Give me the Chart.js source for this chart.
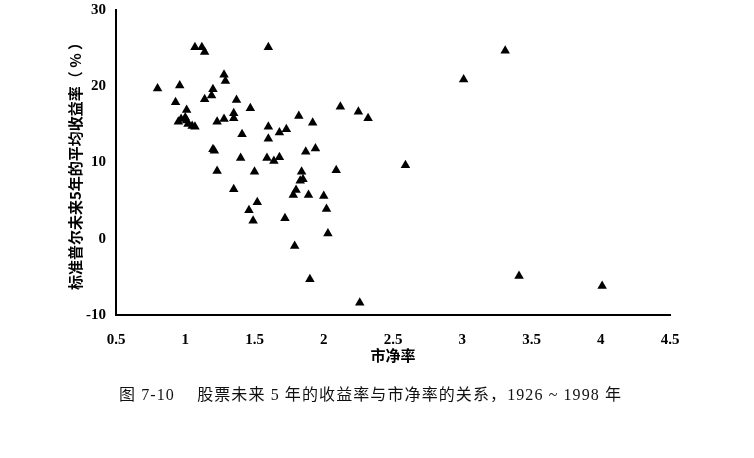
<!DOCTYPE html>
<html>
<head>
<meta charset="utf-8">
<script src="https://cdn.jsdelivr.net/npm/chart.js@4/dist/chart.umd.min.js"></script>
<style>
  html, body { margin: 0; padding: 0; background: #fff; }
  #wrap { position: relative; width: 754px; height: 458px; }
  #caption {
    position: absolute; left: 119px; top: 381px; white-space: pre;
    font-family: "Liberation Serif", "Noto Sans CJK SC", serif;
    font-size: 16px; letter-spacing: 1.1px; color: #111;
  }
</style>
</head>
<body>
<div id="wrap">
  <canvas id="scatterChart" width="754" height="458"></canvas>
  <div id="caption">图 7-10　 股票未来 5 年的收益率与市净率的关系，1926 ~ 1998 年</div>
</div>
<script>
// 市净率 (x) 与未来5年平均收益率 (y)
const pbRatios = [
    0.80, 0.96, 0.93, 1.01, 0.95, 0.97, 1.00, 1.01, 1.02, 1.05,
    1.07, 1.07, 1.12, 1.14, 1.28, 1.29, 1.20, 1.19, 1.14, 1.37,
    1.47, 1.23, 1.28, 1.35, 1.35, 1.41, 1.60, 1.73, 1.68, 1.60,
    1.60, 1.82, 1.92, 2.12, 2.25, 2.32, 1.20, 1.21, 1.40, 1.59,
    1.64, 1.68, 1.87, 1.94, 1.23, 1.50, 1.84, 1.83, 1.85, 1.80,
    1.78, 1.89, 2.00, 2.09, 1.35, 1.52, 1.46, 1.49, 2.02, 1.72,
    2.03, 1.79, 1.90, 2.26, 2.59, 3.01, 3.31, 3.41, 4.01
];
const fiveYearReturns = [
    19.7, 20.1, 17.9, 16.9, 15.35, 15.7, 15.9, 15.5, 15.05, 14.8,
    14.7, 25.1, 25.1, 24.5, 21.5, 20.7, 19.6, 18.8, 18.3, 18.2,
    17.1, 15.35, 15.7, 15.8, 16.45, 13.7, 14.7, 14.35, 13.95, 13.1,
    25.1, 16.1, 15.2, 17.3, 16.65, 15.8, 11.75, 11.55, 10.6, 10.6,
    10.2, 10.7, 11.4, 11.85, 8.9, 8.8, 8.8, 7.6, 7.8, 6.4,
    5.75, 5.75, 5.6, 9.0, 6.5, 4.8, 3.75, 2.35, 3.9, 2.7,
    0.7, -0.95, -5.3, -8.4, 9.65, 20.9, 24.65, -4.9, -6.2
];
const xTicks = [0.5, 1, 1.5, 2, 2.5, 3, 3.5, 4, 4.5];
const yTicks = [-10, 0, 10, 20, 30];
const xTitle = '市净率';
const yTitle = '标准普尔未来5年的平均收益率（ % ）';

const points = pbRatios.map((x, i) => ({ x: x, y: fiveYearReturns[i] }));

const tickFont = { family: '"Liberation Serif", serif', size: 15, weight: 'bold' };
const titleFont = { family: '"Noto Sans CJK SC", sans-serif', size: 15, weight: 'bold' };

new Chart(document.getElementById('scatterChart').getContext('2d'), {
    type: 'scatter',
    data: {
        datasets: [{
            data: points,
            pointStyle: 'triangle',
            pointRadius: 5.5,
            pointHoverRadius: 5.5,
            backgroundColor: '#000',
            borderColor: '#000',
            borderWidth: 0
        }]
    },
    options: {
        responsive: false,
        animation: false,
        layout: { padding: { left: 0, right: 84, top: 10, bottom: 83 } },
        plugins: {
            legend: { display: false },
            tooltip: { enabled: false }
        },
        scales: {
            x: {
                type: 'linear',
                min: 0.5,
                max: 4.5,
                afterBuildTicks: function(scale) {
                    scale.ticks = xTicks.map(v => ({ value: v }));
                },
                afterFit: function(scale) {
                    scale.height = 60;
                    scale.paddingLeft = 0;
                    scale.paddingRight = 0;
                },
                grid: { display: false, drawTicks: false },
                border: { display: true, color: '#000', width: 2 },
                ticks: {
                    color: '#000',
                    font: tickFont,
                    padding: 16,
                    maxRotation: 0,
                    callback: function(value) { return String(value); }
                },
                title: {
                    display: true,
                    text: xTitle,
                    color: '#000',
                    font: titleFont,
                    padding: { top: 0, bottom: 11 }
                }
            },
            y: {
                type: 'linear',
                min: -10,
                max: 30,
                afterBuildTicks: function(scale) {
                    scale.ticks = yTicks.map(v => ({ value: v }));
                },
                afterFit: function(scale) {
                    scale.width = 116;
                    scale.paddingTop = 0;
                    scale.paddingBottom = 0;
                },
                grid: { display: false, drawTicks: false },
                border: { display: true, color: '#000', width: 2 },
                ticks: {
                    color: '#000',
                    font: tickFont,
                    padding: 10,
                    callback: function(value) { return String(value); }
                },
                title: {
                    display: true,
                    text: yTitle,
                    color: '#000',
                    font: titleFont,
                    padding: { top: 66, bottom: 0 }
                }
            }
        }
    }
});
</script>
</body>
</html>
